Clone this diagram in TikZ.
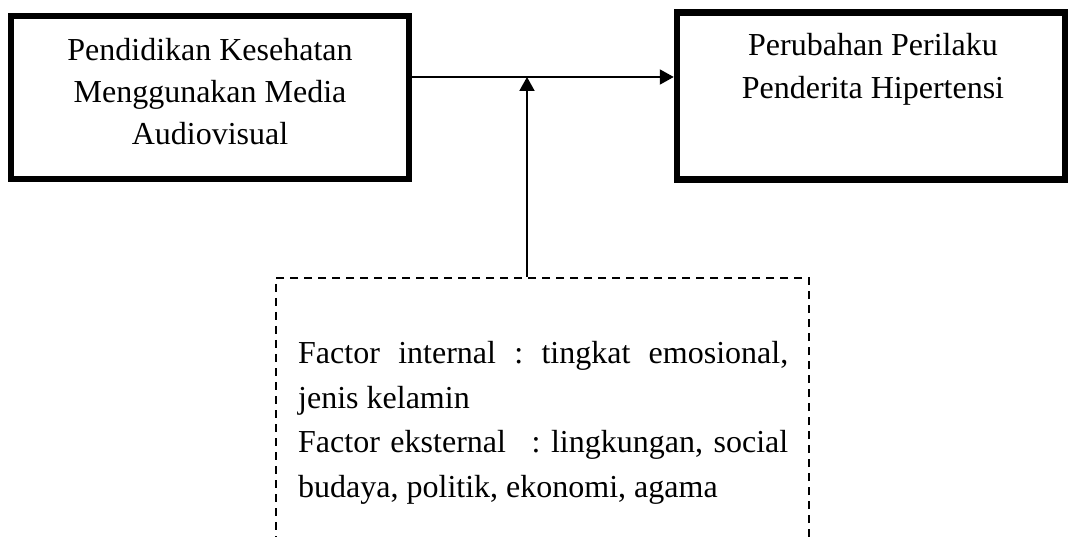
\documentclass[tikz,border=0pt]{standalone}
\usepackage{fontspec}
\setmainfont{Liberation Serif}
\usetikzlibrary{arrows.meta}
\setlength{\parindent}{0pt}
\hyphenpenalty=10000
\frenchspacing
\begin{document}
\begin{tikzpicture}[%
  x=1pt, y=-1pt,
  boxstyle/.style={%
    rectangle,
    draw=black,
    line width=6.5pt,
    inner sep=0pt,
  },
  labelstyle/.style={%
    align=center,
    inner sep=0pt,
    font=\fontsize{32}{42}\selectfont,
  },
  dashbox/.style={%
    rectangle,
    draw=black,
    line width=2pt,
    dash pattern=on 8pt off 6pt,
    inner sep=0pt,
  },
  arrowstyle/.style={%
    line width=2pt,
    -{Triangle[length=14pt,width=15pt]},
  }
]
  \useasboundingbox (0,0) rectangle (1068,537);
  \node [boxstyle, minimum width=398pt, minimum height=163pt] (media) at (210,97.5) {};
  \node [boxstyle, minimum width=388pt, minimum height=167pt] (perilaku) at (871,96) {};
  \node [labelstyle] (medialabel) at (210,92) {Pendidikan Kesehatan\\Menggunakan Media\\Audiovisual};
  \node [labelstyle, anchor=north, font=\fontsize{32}{43}\selectfont] (perilakulabel) at (873,33) {Perubahan Perilaku\\Penderita Hipertensi};
  \node [dashbox, anchor=north west, minimum width=533pt, minimum height=300pt] (faktor) at (275,277) {};
  \node [text width=490pt, align=justify, inner sep=0pt, anchor=north west, font=\fontsize{32}{44.7}\selectfont] (faktorlabel) at (298,341) {Factor internal : tingkat emosional,\linebreak jenis kelamin\par Factor eksternal\hspace{0.8em}: lingkungan, social\linebreak budaya, politik, ekonomi, agama};
  \coordinate (join) at (527,77);
  \draw [arrowstyle] (media.east |- join) -- (perilaku.west |- join);
  \draw [arrowstyle] (faktor.north -| join) -- (join);
\end{tikzpicture}
\end{document}
